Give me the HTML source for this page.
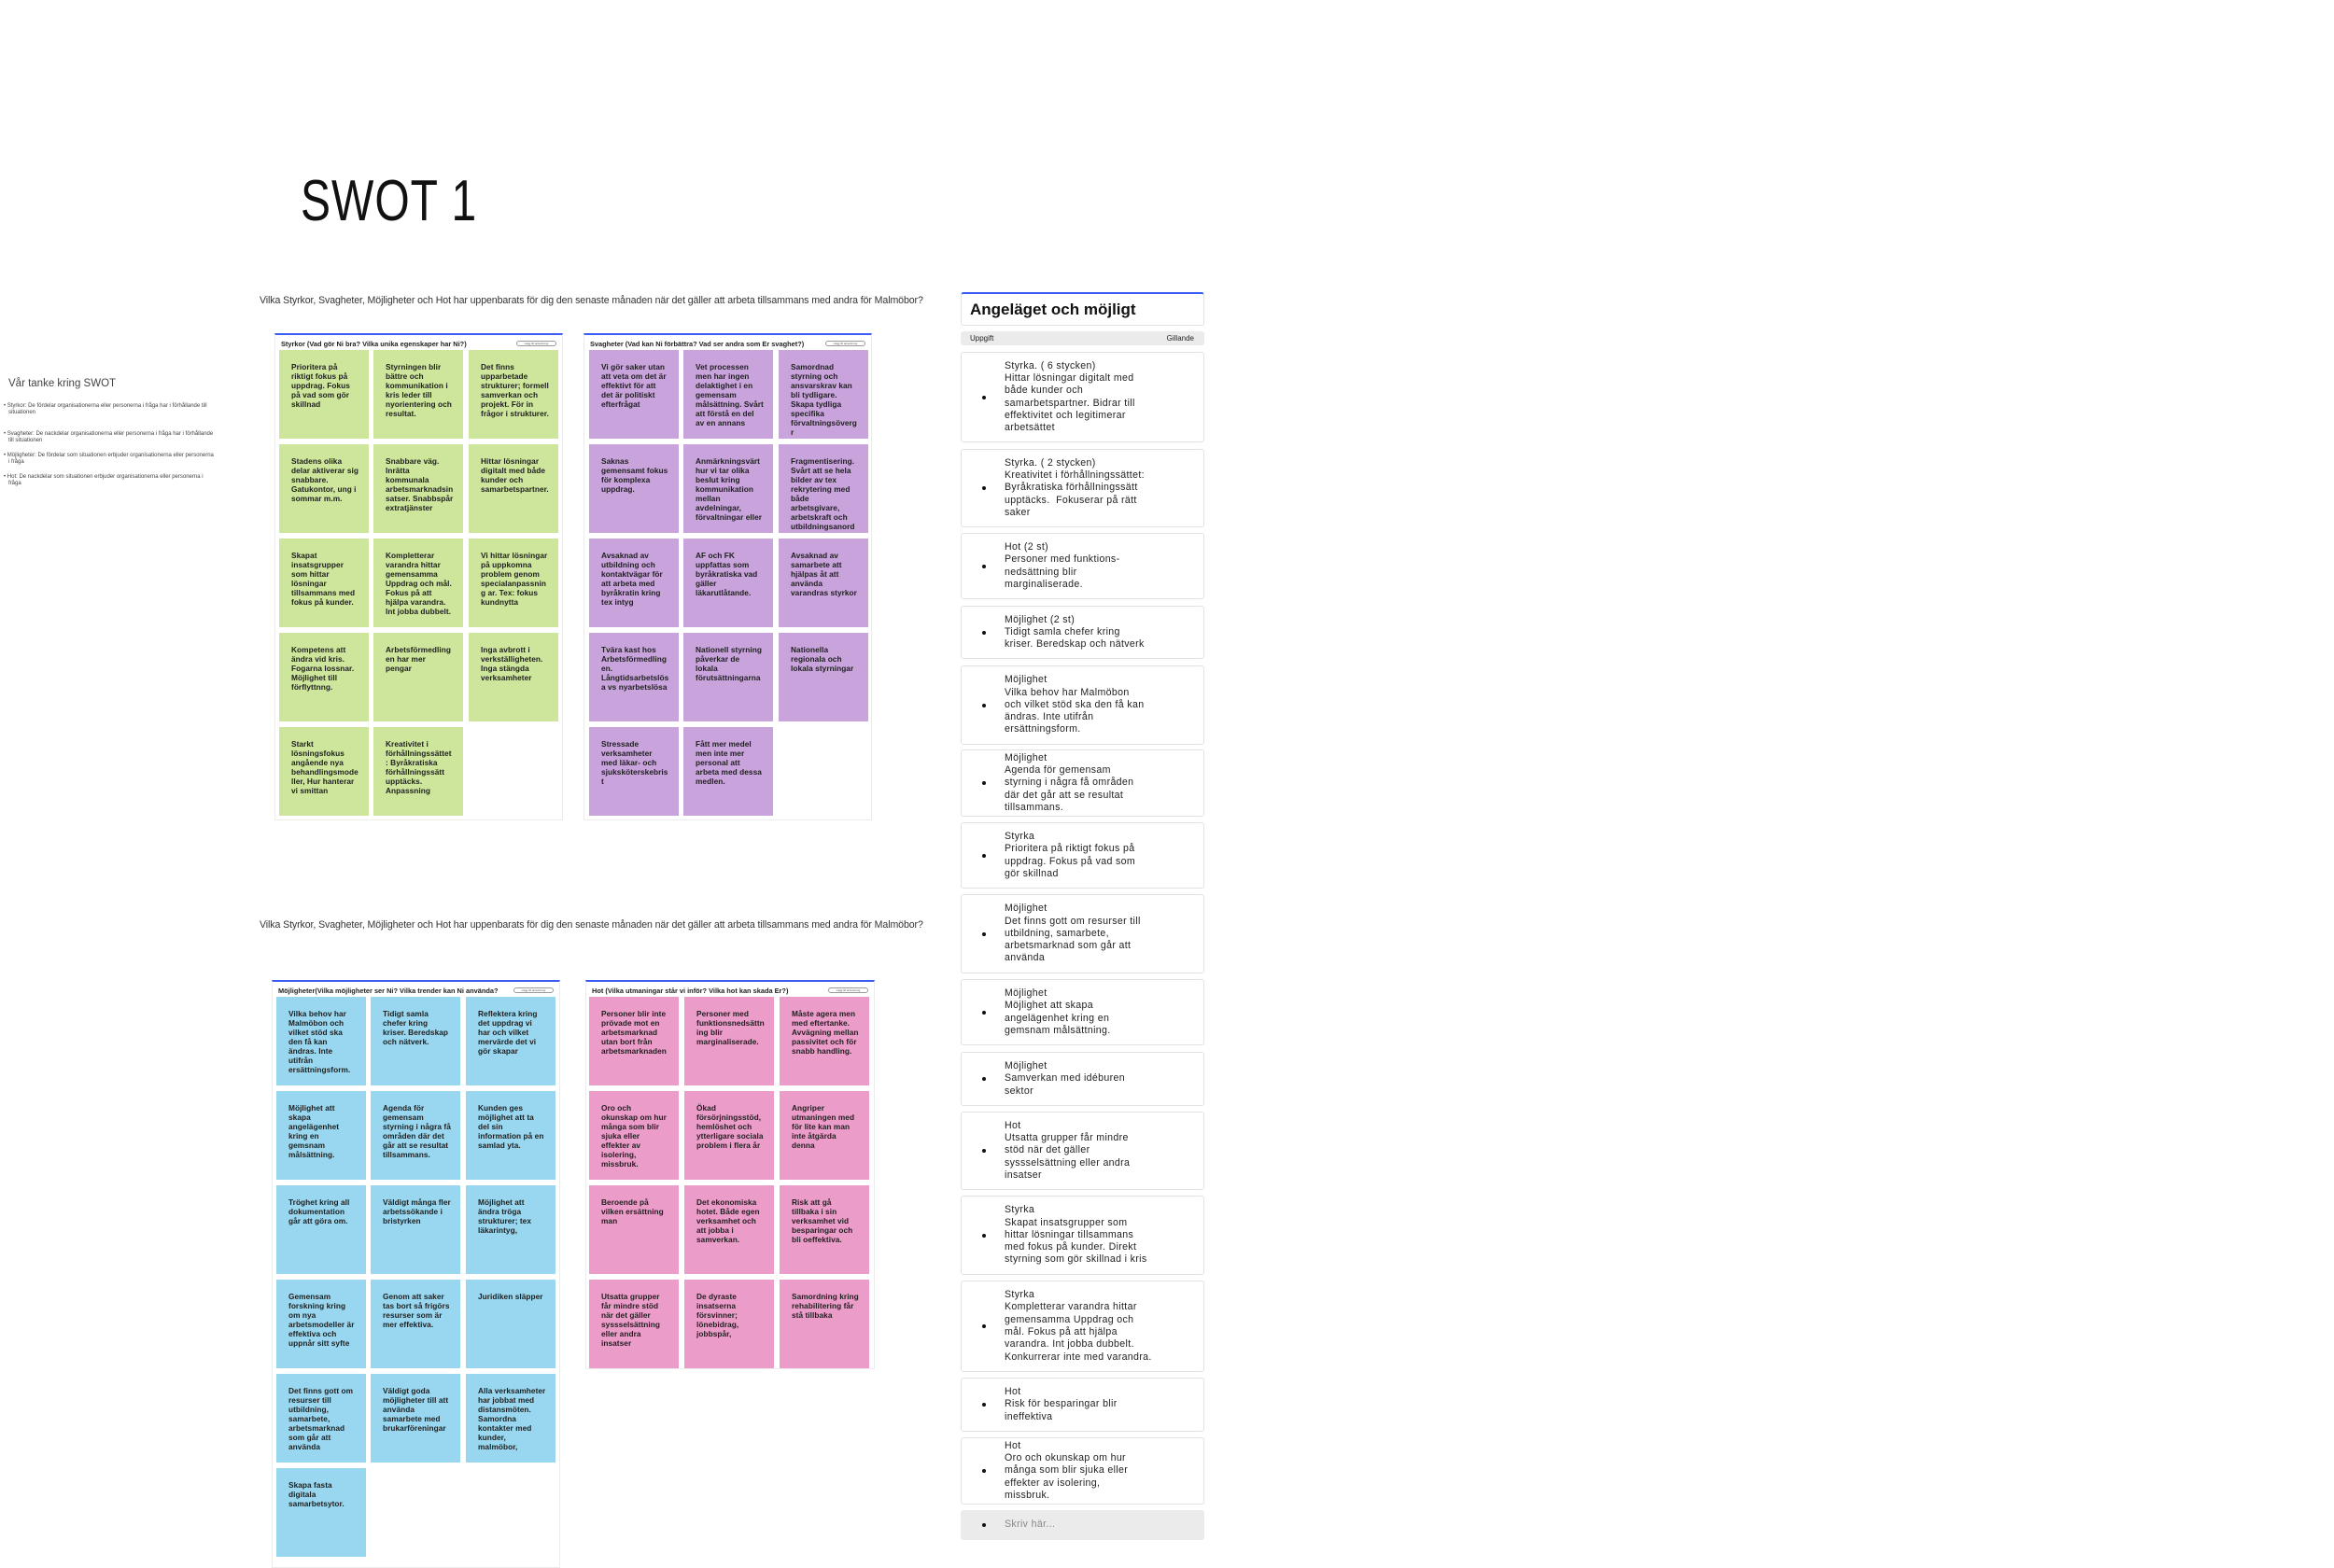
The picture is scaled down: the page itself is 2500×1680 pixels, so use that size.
<!DOCTYPE html>
<html><head><meta charset="utf-8">
<style>
*{margin:0;padding:0;box-sizing:border-box}
body{width:2500px;height:1667px;background:#fff;position:relative;overflow:hidden;font-family:"Liberation Sans","DejaVu Sans",sans-serif;color:#222}
.a{position:absolute}
.panel{position:absolute;border:1px solid #ececec;border-top:2px solid #3a5cf5;background:#fff}
.ph{position:absolute;left:6px;top:5px;font-size:7.4px;font-weight:bold;color:#222;white-space:nowrap}
.pill{position:absolute;width:43px;height:6px;border:1px solid #999;border-radius:4px;top:6px;right:6px;font-size:3px;text-align:center;line-height:4px;color:#555}
.s{position:absolute;width:96px;height:95px;padding:13px 10px 0 13px;font-size:8.3px;line-height:10px;font-weight:bold;color:#1e1e1e;overflow:hidden;word-wrap:break-word;letter-spacing:0.05px}
.g{background:#cde69c}.p{background:#c8a3dc}.b{background:#98d7ef}.k{background:#ec9cc9}
.card{position:absolute;left:1029px;width:261px;border:1px solid #e2e2e2;border-radius:3px;background:#fff;display:flex;align-items:center}
.card .dot{width:4px;height:4px;border-radius:50%;background:#111;margin-left:22px;flex:none}
.card .t{margin-left:20px;font-size:10.6px;line-height:13.3px;color:#222;width:154px;letter-spacing:0.35px}
.q{font-size:10.6px;color:#333;white-space:nowrap;letter-spacing:-0.1px}
.lb{font-size:6px;line-height:7px;color:#444;width:228px;padding-left:7px;text-indent:-5px}
</style></head><body>

<div class="a" style="left:322px;top:180px;font-size:48px;letter-spacing:1px;transform:scaleY(1.3);transform-origin:left top;color:#111">SWOT 1</div>

<div class="a q" style="left:278px;top:316px">Vilka Styrkor, Svagheter, Möjligheter och Hot har uppenbarats för dig den senaste månaden när det gäller att arbeta tillsammans med andra för Malmöbor?</div>
<div class="a q" style="left:278px;top:985px">Vilka Styrkor, Svagheter, Möjligheter och Hot har uppenbarats för dig den senaste månaden när det gäller att arbeta tillsammans med andra för Malmöbor?</div>

<div class="a" style="left:9px;top:405px;font-size:11.5px;color:#444">Vår tanke kring SWOT</div>
<div class="a lb" style="left:2px;top:432px">• Styrkor: De fördelar organisationerna eller personerna i fråga har i förhållande till situationen</div>
<div class="a lb" style="left:2px;top:462px">• Svagheter: De nackdelar organisationerna eller personerna i fråga har i förhållande till situationen</div>
<div class="a lb" style="left:2px;top:485px">• Möjligheter: De fördelar som situationen erbjuder organisationerna eller personerna i fråga</div>
<div class="a lb" style="left:2px;top:508px">• Hot: De nackdelar som situationen erbjuder organisationerna eller personerna i fråga</div>

<div class="panel" style="left:294px;top:357px;width:309px;height:522px"><div class="ph">Styrkor (Vad gör Ni bra? Vilka unika egenskaper har Ni?)</div><div class="pill">Lägg till anteckning</div></div>
<div class="panel" style="left:625px;top:357px;width:309px;height:522px"><div class="ph">Svagheter (Vad kan Ni förbättra? Vad ser andra som Er svaghet?)</div><div class="pill">Lägg till anteckning</div></div>

<div class="s g" style="left:299px;top:375px">Prioritera på riktigt fokus på uppdrag. Fokus på vad som gör skillnad</div>
<div class="s g" style="left:400px;top:375px">Styrningen blir bättre och kommunikation i kris leder till nyorientering och resultat.</div>
<div class="s g" style="left:502px;top:375px">Det finns upparbetade strukturer; formell samverkan och projekt. För in frågor i strukturer.</div>
<div class="s g" style="left:299px;top:476px">Stadens olika delar aktiverar sig snabbare. Gatukontor, ung i sommar m.m.</div>
<div class="s g" style="left:400px;top:476px">Snabbare väg. Inrätta kommunala arbetsmarknadsinsatser. Snabbspår extratjänster</div>
<div class="s g" style="left:502px;top:476px">Hittar lösningar digitalt med både kunder och samarbetspartner.</div>
<div class="s g" style="left:299px;top:577px">Skapat insatsgrupper som hittar lösningar tillsammans med fokus på kunder.</div>
<div class="s g" style="left:400px;top:577px">Kompletterar varandra hittar gemensamma Uppdrag och mål. Fokus på att hjälpa varandra. Int jobba dubbelt.</div>
<div class="s g" style="left:502px;top:577px">Vi hittar lösningar på uppkomna problem genom specialanpassning ar. Tex: fokus kundnytta</div>
<div class="s g" style="left:299px;top:678px">Kompetens att ändra vid kris. Fogarna lossnar. Möjlighet till förflyttnng.</div>
<div class="s g" style="left:400px;top:678px">Arbetsförmedlingen har mer pengar</div>
<div class="s g" style="left:502px;top:678px">Inga avbrott i verkställigheten. Inga stängda verksamheter</div>
<div class="s g" style="left:299px;top:779px">Starkt lösningsfokus angående nya behandlingsmodeller, Hur hanterar vi smittan</div>
<div class="s g" style="left:400px;top:779px">Kreativitet i förhållningssättet: Byråkratiska förhållningssätt upptäcks. Anpassning</div>

<div class="s p" style="left:631px;top:375px">Vi gör saker utan att veta om det är effektivt för att det är politiskt efterfrågat</div>
<div class="s p" style="left:732px;top:375px">Vet processen men har ingen delaktighet i en gemensam målsättning. Svårt att förstå en del av en annans</div>
<div class="s p" style="left:834px;top:375px">Samordnad styrning och ansvarskrav kan bli tydligare. Skapa tydliga specifika förvaltningsövergr</div>
<div class="s p" style="left:631px;top:476px">Saknas gemensamt fokus för komplexa uppdrag.</div>
<div class="s p" style="left:732px;top:476px">Anmärkningsvärt hur vi tar olika beslut kring kommunikation mellan avdelningar, förvaltningar eller</div>
<div class="s p" style="left:834px;top:476px">Fragmentisering. Svårt att se hela bilder av tex rekrytering med både arbetsgivare, arbetskraft och utbildningsanordn</div>
<div class="s p" style="left:631px;top:577px">Avsaknad av utbildning och kontaktvägar för att arbeta med byråkratin kring tex intyg</div>
<div class="s p" style="left:732px;top:577px">AF och FK uppfattas som byråkratiska vad gäller läkarutlåtande.</div>
<div class="s p" style="left:834px;top:577px">Avsaknad av samarbete att hjälpas åt att använda varandras styrkor</div>
<div class="s p" style="left:631px;top:678px">Tvära kast hos Arbetsförmedlingen. Långtidsarbetslösa vs nyarbetslösa</div>
<div class="s p" style="left:732px;top:678px">Nationell styrning påverkar de lokala förutsättningarna</div>
<div class="s p" style="left:834px;top:678px">Nationella regionala och lokala styrningar</div>
<div class="s p" style="left:631px;top:779px">Stressade verksamheter med läkar- och sjuksköterskebrist</div>
<div class="s p" style="left:732px;top:779px">Fått mer medel men inte mer personal att arbeta med dessa medlen.</div>

<div class="panel" style="left:291px;top:1050px;width:309px;height:630px"><div class="ph">Möjligheter(Vilka möjligheter ser Ni? Vilka trender kan Ni använda?</div><div class="pill">Lägg till anteckning</div></div>
<div class="panel" style="left:627px;top:1050px;width:310px;height:417px"><div class="ph">Hot (Vilka utmaningar står vi inför? Vilka hot kan skada Er?)</div><div class="pill">Lägg till anteckning</div></div>

<div class="s b" style="left:296px;top:1068px">Vilka behov har Malmöbon och vilket stöd ska den få kan ändras. Inte utifrån ersättningsform.</div>
<div class="s b" style="left:397px;top:1068px">Tidigt samla chefer kring kriser. Beredskap och nätverk.</div>
<div class="s b" style="left:499px;top:1068px">Reflektera kring det uppdrag vi har och vilket mervärde det vi gör skapar</div>
<div class="s b" style="left:296px;top:1169px">Möjlighet att skapa angelägenhet kring en gemsnam målsättning.</div>
<div class="s b" style="left:397px;top:1169px">Agenda för gemensam styrning i några få områden där det går att se resultat tillsammans.</div>
<div class="s b" style="left:499px;top:1169px">Kunden ges möjlighet att ta del sin information på en samlad yta.</div>
<div class="s b" style="left:296px;top:1270px">Tröghet kring all dokumentation går att göra om.</div>
<div class="s b" style="left:397px;top:1270px">Väldigt många fler arbetssökande i bristyrken</div>
<div class="s b" style="left:499px;top:1270px">Möjlighet att ändra tröga strukturer; tex läkarintyg,</div>
<div class="s b" style="left:296px;top:1371px">Gemensam forskning kring om nya arbetsmodeller är effektiva och uppnår sitt syfte</div>
<div class="s b" style="left:397px;top:1371px">Genom att saker tas bort så frigörs resurser som är mer effektiva.</div>
<div class="s b" style="left:499px;top:1371px">Juridiken släpper</div>
<div class="s b" style="left:296px;top:1472px">Det finns gott om resurser till utbildning, samarbete, arbetsmarknad som går att använda</div>
<div class="s b" style="left:397px;top:1472px">Väldigt goda möjligheter till att använda samarbete med brukarföreningar</div>
<div class="s b" style="left:499px;top:1472px">Alla verksamheter har jobbat med distansmöten. Samordna kontakter med kunder, malmöbor,</div>
<div class="s b" style="left:296px;top:1573px">Skapa fasta digitala samarbetsytor.</div>

<div class="s k" style="left:631px;top:1068px">Personer blir inte prövade mot en arbetsmarknad utan bort från arbetsmarknaden</div>
<div class="s k" style="left:733px;top:1068px">Personer med funktionsnedsättning blir marginaliserade.</div>
<div class="s k" style="left:835px;top:1068px">Måste agera men med eftertanke. Avvägning mellan passivitet och för snabb handling.</div>
<div class="s k" style="left:631px;top:1169px">Oro och okunskap om hur många som blir sjuka eller effekter av isolering, missbruk.</div>
<div class="s k" style="left:733px;top:1169px">Ökad försörjningsstöd, hemlöshet och ytterligare sociala problem i flera år</div>
<div class="s k" style="left:835px;top:1169px">Angriper utmaningen med för lite kan man inte åtgärda denna</div>
<div class="s k" style="left:631px;top:1270px">Beroende på vilken ersättning man</div>
<div class="s k" style="left:733px;top:1270px">Det ekonomiska hotet. Både egen verksamhet och att jobba i samverkan.</div>
<div class="s k" style="left:835px;top:1270px">Risk att gå tillbaka i sin verksamhet vid besparingar och bli oeffektiva.</div>
<div class="s k" style="left:631px;top:1371px">Utsatta grupper får mindre stöd när det gäller sysssel­sättning eller andra insatser</div>
<div class="s k" style="left:733px;top:1371px">De dyraste insatserna försvinner; lönebidrag, jobbspår,</div>
<div class="s k" style="left:835px;top:1371px">Samordning kring rehabilitering får stå tillbaka</div>

<div class="a" style="left:1029px;top:313px;width:261px;height:36px;border:1px solid #e2e2e2;border-top:2px solid #3a5cf5;border-radius:3px"></div>
<div class="a" style="left:1039px;top:322px;font-size:17px;font-weight:bold;color:#111">Angeläget och möjligt</div>
<div class="a" style="left:1029px;top:355px;width:261px;height:15px;background:#ebebeb;border-radius:3px;font-size:8px;line-height:15px;color:#222"><span style="position:absolute;left:10px">Uppgift</span><span style="position:absolute;right:11px">Gillande</span></div>

<div class="card" style="top:377px;height:97px"><div class="dot"></div><div class="t">Styrka. ( 6 stycken)<br>Hittar lösningar digitalt med både kunder och samarbetspartner. Bidrar till effektivitet och legitimerar arbetsättet</div></div>
<div class="card" style="top:481px;height:84px"><div class="dot"></div><div class="t">Styrka. ( 2 stycken)<br>Kreativitet i förhållningssättet: Byråkratiska förhållningssätt upptäcks.&nbsp; Fokuserar på rätt saker</div></div>
<div class="card" style="top:571px;height:71px"><div class="dot"></div><div class="t">Hot (2 st)<br>Personer med funktions-<br>nedsättning blir marginaliserade.</div></div>
<div class="card" style="top:649px;height:57px"><div class="dot"></div><div class="t">Möjlighet (2 st)<br>Tidigt samla chefer kring kriser. Beredskap och nätverk</div></div>
<div class="card" style="top:713px;height:85px"><div class="dot"></div><div class="t">Möjlighet<br>Vilka behov har Malmöbon och vilket stöd ska den få kan ändras. Inte utifrån ersättningsform.</div></div>
<div class="card" style="top:803px;height:72px"><div class="dot"></div><div class="t">Möjlighet<br>Agenda för gemensam styrning i några få områden där det går att se resultat tillsammans.</div></div>
<div class="card" style="top:881px;height:71px"><div class="dot"></div><div class="t">Styrka<br>Prioritera på riktigt fokus på uppdrag. Fokus på vad som gör skillnad</div></div>
<div class="card" style="top:958px;height:85px"><div class="dot"></div><div class="t">Möjlighet<br>Det finns gott om resurser till utbildning, samarbete, arbetsmarknad som går att använda</div></div>
<div class="card" style="top:1049px;height:71px"><div class="dot"></div><div class="t">Möjlighet<br>Möjlighet att skapa angelägenhet kring en gemsnam målsättning.</div></div>
<div class="card" style="top:1127px;height:58px"><div class="dot"></div><div class="t">Möjlighet<br>Samverkan med idéburen sektor</div></div>
<div class="card" style="top:1191px;height:84px"><div class="dot"></div><div class="t">Hot<br>Utsatta grupper får mindre stöd när det gäller sysssels&auml;ttning eller andra insatser</div></div>
<div class="card" style="top:1281px;height:85px"><div class="dot"></div><div class="t" style="width:160px">Styrka<br>Skapat insatsgrupper som hittar lösningar tillsammans med fokus på kunder. Direkt styrning som gör skillnad i kris</div></div>
<div class="card" style="top:1372px;height:98px"><div class="dot"></div><div class="t" style="width:160px">Styrka<br>Kompletterar varandra hittar gemensamma Uppdrag och mål. Fokus på att hjälpa varandra. Int jobba dubbelt. Konkurrerar inte med varandra.</div></div>
<div class="card" style="top:1476px;height:58px"><div class="dot"></div><div class="t">Hot<br>Risk för besparingar blir ineffektiva</div></div>
<div class="card" style="top:1540px;height:72px"><div class="dot"></div><div class="t">Hot<br>Oro och okunskap om hur många som blir sjuka eller effekter av isolering, missbruk.</div></div>
<div class="card" style="top:1618px;height:32px;background:#ebebeb;border-color:#ebebeb"><div class="dot"></div><div class="t" style="color:#888">Skriv här...</div></div>

</body></html>
